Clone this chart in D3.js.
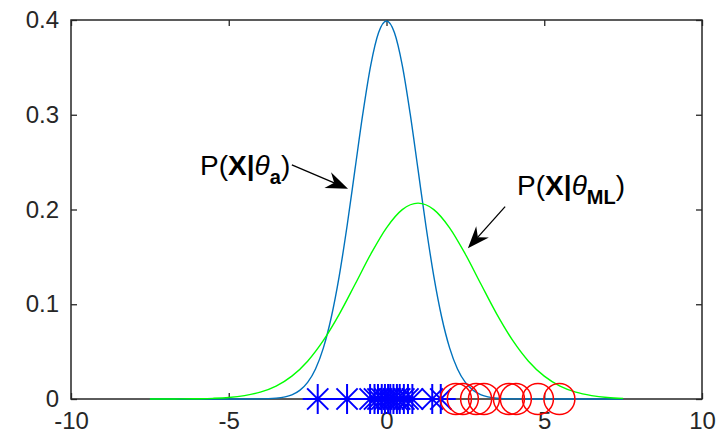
<!DOCTYPE html>
<html>
<head>
<meta charset="utf-8">
<script src="https://cdn.jsdelivr.net/npm/d3@7"></script>
<style>
  body { margin: 0; background: #fff; }
  svg { display: block; }
</style>
</head>
<body>
<div id="chart"></div>
<script>
// tick values
const xTicks = [-10, -5, 0, 5, 10];
const yTicks = [0, 0.1, 0.2, 0.3, 0.4];

// P(X|theta_a) curve
const curveAX = [-7.5, -5, -4, -3.5, -3, -2.75, -2.5, -2.25, -2, -1.75, -1.5, -1.25, -1, -0.75, -0.5, -0.25,
  0, 0.25, 0.5, 0.75, 1, 1.25, 1.5, 1.75, 2, 2.25, 2.5, 2.75, 3, 3.5, 4, 5, 7.5];
const curveAY = [0, 0, 0.0001, 0.0009, 0.0044, 0.0091, 0.0175, 0.0317, 0.054, 0.0863, 0.1295, 0.1826, 0.242, 0.3011, 0.3521, 0.3867,
  0.3989, 0.3867, 0.3521, 0.3011, 0.242, 0.1826, 0.1295, 0.0863, 0.054, 0.0317, 0.0175, 0.0091, 0.0044, 0.0009, 0.0001, 0, 0];

// P(X|theta_ML) curve
const curveMLX = [-7.5, -7, -6.5, -6, -5.5, -5, -4.5, -4, -3.5, -3, -2.5, -2, -1.5, -1, -0.5, 0,
  0.5, 1, 1.5, 2, 2.5, 3, 3.5, 4, 4.5, 5, 5.5, 6, 6.5, 7, 7.5];
const curveMLY = [0, 0, 0.0001, 0.0003, 0.0007, 0.0016, 0.0036, 0.0072, 0.0136, 0.0241, 0.0399, 0.0618, 0.0893, 0.1208, 0.1528, 0.1807,
  0.1999, 0.2067, 0.1999, 0.1807, 0.1528, 0.1208, 0.0893, 0.0618, 0.0399, 0.0241, 0.0136, 0.0072, 0.0036, 0.0016, 0.0007];

// samples
const starSamples = [-2.18, -1.25, -0.52, -0.38, -0.27, -0.15, -0.05, 0.05, 0.12, 0.22, 0.33, 0.42, 0.55, 0.68, 0.82, 1.45, 1.72];
const circleSamples = [2.2, 2.42, 2.84, 3.09, 3.88, 4.1, 4.8, 5.48];

// annotations: [textX, textY, tailX, tailY, tipX, tipY]
const annotA = [-5.91, 0.236, -3.0, 0.247, -1.22, 0.222];
const annotML = [4.14, 0.215, 3.76, 0.203, 2.58, 0.159];

const width = 727, height = 440;
const margin = { top: 20, right: 25, bottom: 41, left: 71 };
const font = "'Liberation Sans', Arial, Helvetica, sans-serif";
const axisColor = "#262626";

const svg = d3.select("#chart").append("svg")
  .attr("width", width)
  .attr("height", height);

const x = d3.scaleLinear().domain([-10, 10]).range([margin.left, width - margin.right]);
const y = d3.scaleLinear().domain([0, 0.4]).range([height - margin.bottom, margin.top]);

// axes
function styleAxis(g) {
  g.select(".domain").remove();
  g.selectAll(".tick line").attr("stroke", axisColor).attr("stroke-width", 1.3);
  g.selectAll("text").attr("fill", axisColor).style("font-family", font).style("font-size", "24px");
}

svg.append("g")
  .attr("transform", "translate(0," + y(0) + ")")
  .call(d3.axisBottom(x).tickValues(xTicks).tickFormat(d => String(d)).tickSizeInner(-6).tickSizeOuter(0).tickPadding(13))
  .call(styleAxis);

svg.append("g")
  .attr("transform", "translate(" + x(-10) + ",0)")
  .call(d3.axisLeft(y).tickValues(yTicks).tickFormat(d => String(d)).tickSizeInner(-6).tickSizeOuter(0).tickPadding(12))
  .call(styleAxis);

svg.append("g")
  .attr("transform", "translate(0," + y(0.4) + ")")
  .call(d3.axisTop(x).tickValues(xTicks).tickFormat("").tickSizeInner(-6).tickSizeOuter(0))
  .call(styleAxis);

svg.append("g")
  .attr("transform", "translate(" + x(10) + ",0)")
  .call(d3.axisRight(y).tickValues(yTicks).tickFormat("").tickSizeInner(-6).tickSizeOuter(0))
  .call(styleAxis);

svg.append("rect")
  .attr("x", x(-10)).attr("y", y(0.4))
  .attr("width", x(10) - x(-10)).attr("height", y(0) - y(0.4))
  .attr("fill", "none").attr("stroke", axisColor).attr("stroke-width", 1.5);

// curves
const line = d3.line()
  .x(d => x(d[0]))
  .y(d => y(d[1]))
  .curve(d3.curveMonotoneX);

svg.append("path")
  .datum(d3.zip(curveAX, curveAY))
  .attr("d", line)
  .attr("fill", "none").attr("stroke", "#0072BD").attr("stroke-width", 1.4);

svg.append("path")
  .datum(d3.zip(curveMLX, curveMLY))
  .attr("d", line)
  .attr("fill", "none").attr("stroke", "#00FF00").attr("stroke-width", 1.4);

// markers
const r = 15, rd = r * Math.SQRT1_2;
const starPath = `M0,${-r}V${r}M${-r},0H${r}M${-rd},${-rd}L${rd},${rd}M${-rd},${rd}L${rd},${-rd}`;

svg.append("g").selectAll("path")
  .data(starSamples)
  .join("path")
  .attr("transform", d => "translate(" + x(d) + "," + y(0) + ")")
  .attr("d", starPath)
  .attr("fill", "none").attr("stroke", "#0000FF").attr("stroke-width", 2);

svg.append("g").selectAll("circle")
  .data(circleSamples)
  .join("circle")
  .attr("cx", d => x(d))
  .attr("cy", y(0))
  .attr("r", 15.5)
  .attr("fill", "none").attr("stroke", "#FF0000").attr("stroke-width", 1.5);

// annotations
function arrow(a) {
  const x0 = x(a[2]), y0 = y(a[3]), x1 = x(a[4]), y1 = y(a[5]);
  const len = Math.hypot(x1 - x0, y1 - y0);
  const ux = (x1 - x0) / len, uy = (y1 - y0) / len;
  const nx = -uy, ny = ux;
  const L = 22, W = 8.5, notch = 7;
  svg.append("line")
    .attr("x1", x0).attr("y1", y0)
    .attr("x2", x1 - ux * (L - notch)).attr("y2", y1 - uy * (L - notch))
    .attr("stroke", "#000").attr("stroke-width", 1.3);
  const pts = [
    [x1, y1],
    [x1 - ux * L + nx * W, y1 - uy * L + ny * W],
    [x1 - ux * (L - notch), y1 - uy * (L - notch)],
    [x1 - ux * L - nx * W, y1 - uy * L - ny * W]
  ];
  svg.append("path").attr("d", "M" + pts.join("L") + "Z").attr("fill", "#000");
}

function label(a, sub) {
  const t = svg.append("text")
    .attr("x", x(a[0])).attr("y", y(a[1]))
    .style("font-family", font).style("font-size", "28px").attr("fill", "#000");
  t.append("tspan").text("P(");
  t.append("tspan").style("font-weight", "bold").text("X|");
  t.append("tspan").style("font-style", "italic").text("θ");
  t.append("tspan").style("font-weight", "bold").style("font-size", "20px").attr("dy", 9).text(sub);
  t.append("tspan").attr("dy", -9).text(")");
}

arrow(annotA);
arrow(annotML);
label(annotA, "a");
label(annotML, "ML");
</script>
</body>
</html>
